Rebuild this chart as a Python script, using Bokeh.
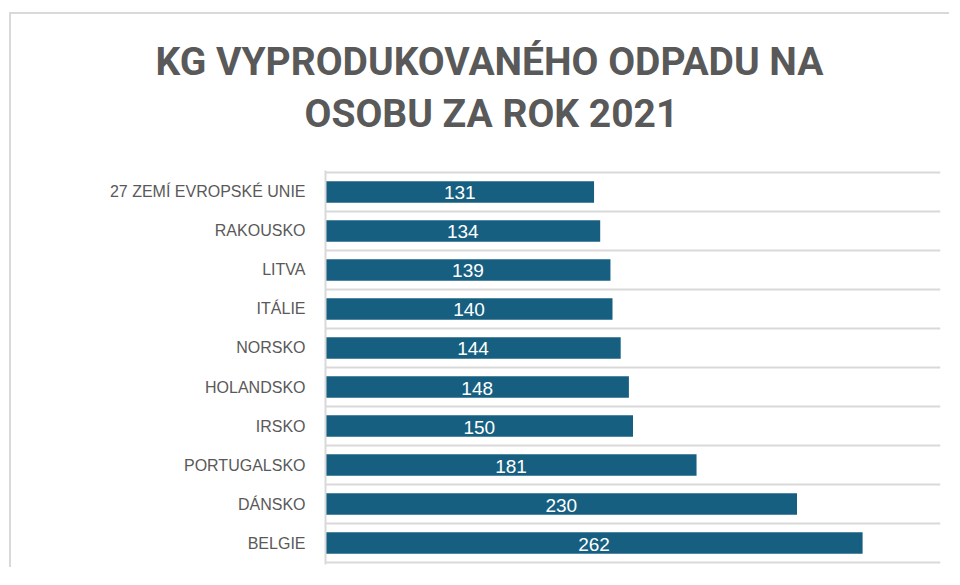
from bokeh.plotting import figure
from bokeh.models import FactorRange, Range1d, FixedTicker, Title, ColumnDataSource, LabelSet
from bokeh.core.properties import value
from bokeh.embed import file_html
from bokeh.resources import INLINE

countries = ["27 ZEMÍ EVROPSKÉ UNIE", "RAKOUSKO", "LITVA", "ITÁLIE", "NORSKO",
             "HOLANDSKO", "IRSKO", "PORTUGALSKO", "DÁNSKO", "BELGIE"]
values = [131, 134, 139, 140, 144, 148, 150, 181, 230, 262]
title_lines = ["KG VYPRODUKOVANÉHO ODPADU NA", "OSOBU ZA ROK 2021"]

BAR = "#175f80"
GREY = "#595959"
LIGHT = "#d9d9d9"

src = ColumnDataSource(dict(
    country=countries,
    value=values,
    mid=[v / 2 for v in values],
    label=[str(v) for v in values],
))

p = figure(
    width=940, height=555,
    y_range=FactorRange(factors=countries[::-1], range_padding=0.05,
                        range_padding_units="absolute", factor_padding=0),
    x_range=Range1d(0, 300),
    output_backend="svg", toolbar_location=None,
    min_border_left=314, min_border_right=11, min_border_top=156, min_border_bottom=5,
)
p.styles = {"margin-left": "9px", "margin-top": "12px",
            "border-left": "2px solid #d9d9d9", "border-top": "2px solid #d9d9d9"}
p.outline_line_color = None
p.background_fill_color = "white"
p.border_fill_color = "white"

p.hbar(y="country", right="value", left=0, height=0.55, source=src,
       fill_color=BAR, line_color=None)

labels = LabelSet(x="mid", y="country", text="label", source=src,
                  text_align="center", text_baseline="middle",
                  text_color="white", text_font_size="19px",
                  text_font=value("Liberation Sans"), y_offset=-1)
p.add_layout(labels)

p.xaxis.visible = False
p.xgrid.visible = False
p.ygrid.ticker = FixedTicker(ticks=list(range(len(countries) + 1)))
p.ygrid.grid_line_color = LIGHT
p.ygrid.grid_line_width = 2

yax = p.yaxis[0]
yax.axis_line_color = LIGHT
yax.axis_line_width = 2
yax.major_tick_line_color = None
yax.minor_tick_line_color = None
yax.major_label_text_font = "Liberation Sans"
yax.major_label_text_font_size = "16px"
yax.major_label_text_color = GREY
yax.major_label_standoff = 14

# spacer between frame and title block
p.add_layout(Title(text=" ", text_font_size="1px", standoff=31), "above")
# title lines (closest to frame first)
p.add_layout(Title(text=title_lines[1], align="left", offset=-21, standoff=0,
                   text_font="Roboto", text_font_style="bold",
                   text_font_size="39px", text_color=GREY), "above")
p.add_layout(Title(text=title_lines[0], align="left", offset=-170, standoff=8,
                   text_font="Roboto", text_font_style="bold",
                   text_font_size="39px", text_color=GREY), "above")

open("out.html", "w").write(file_html(p, INLINE))
